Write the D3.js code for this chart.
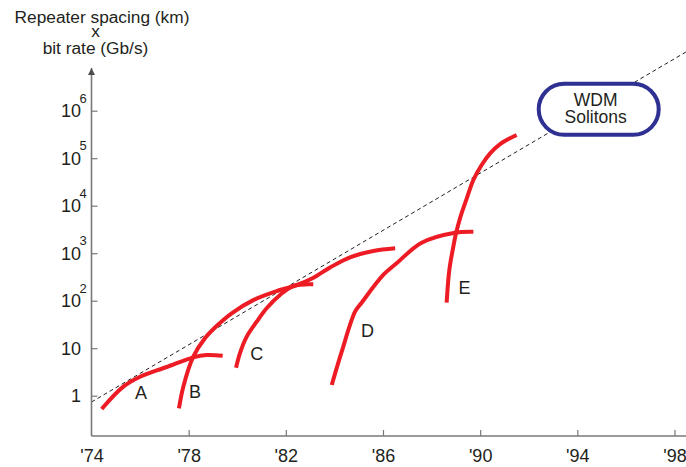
<!DOCTYPE html>
<html>
<head>
<meta charset="utf-8">
<script src="https://cdn.jsdelivr.net/npm/d3@7"></script>
<style>
  body { margin: 0; background: #fff; }
  svg { display: block; font-family: "Liberation Sans", Arial, sans-serif; }
</style>
</head>
<body>
<svg id="chart" width="686" height="467"></svg>
<script>
// values (year, repeater spacing x bit rate)
let xTicks = [1974, 1978, 1982, 1986, 1990, 1994, 1998]
let yTicks = [1, 10, 100, 1e3, 1e4, 1e5, 1e6]
let yExponents = [0, 1, 2, 3, 4, 5, 6]

let curveA = [[1974.42, 0.525], [1975.31, 1.55], [1976.0, 2.51], [1977.1, 4.02], [1978.19, 6.43], [1978.74, 7.19], [1979.4, 6.95]]
let curveB = [[1977.6, 0.543], [1977.78, 1.55], [1978.19, 6.62], [1978.67, 16.2], [1979.15, 29.3], [1979.77, 54.3], [1980.66, 103], [1981.76, 168], [1982.45, 214], [1983.12, 300], [1983.82, 500], [1984.64, 820], [1985.6, 1112], [1986.5, 1268]]
let curveC = [[1979.95, 3.88], [1980.11, 7.81], [1980.39, 17.5], [1980.8, 36.1], [1981.21, 69.2], [1981.76, 132], [1982.31, 204], [1983.13, 221]]
let curveD = [[1983.89, 1.68], [1984.3, 8.44], [1984.85, 58.7], [1985.12, 90.8], [1986.01, 348], [1986.56, 613], [1987.59, 1663], [1988.96, 2704], [1989.72, 2837]]
let curveE = [[1988.62, 90.8], [1988.73, 443], [1988.895, 1371], [1989.006, 2624], [1989.17, 5430], [1989.45, 14300], [1989.72, 34760], [1990.06, 71900], [1990.41, 126800], [1990.82, 199000], [1991.5, 307700]]

let curves = [curveA, curveB, curveC, curveD, curveE]
let curveNames = ['A', 'B', 'C', 'D', 'E']
let labelPos = [[1976.04, 0.84], [1978.26, 0.88], [1980.8, 5.64], [1985.36, 17.5], [1989.36, 138]]

// dashed trend line
let trendYears = [1974, 1998.47]
let trendValues = [0.736, 1.72e7]

let svg = d3.select('#chart')
let textColor = '#231f20'
let axisColor = '#77787b'

let x = d3.scaleLinear().domain([1974, 1998]).range([91.5, 674.5])
let y = d3.scaleLog().domain([1, 1e6]).range([395.7, 110.7])
let axisY = 436

// trend line first so the box covers it
svg.append('line')
    .attr('x1', x(trendYears[0])).attr('y1', y(trendValues[0]))
    .attr('x2', x(trendYears[1])).attr('y2', y(trendValues[1]))
    .attr('stroke', '#231f20')
    .attr('stroke-width', 1)
    .attr('stroke-dasharray', '4,3')

// axes
let defs = svg.append('defs')
defs.append('marker')
    .attr('id', 'arrow')
    .attr('viewBox', '0 0 10 10')
    .attr('refX', 10).attr('refY', 5)
    .attr('markerWidth', 7).attr('markerHeight', 9)
    .attr('markerUnits', 'userSpaceOnUse')
    .attr('orient', 'auto')
    .append('path')
    .attr('d', 'M0,0L10,5L0,10Z')
    .attr('fill', '#4d4d4f')

svg.append('line')
    .attr('x1', x(1974)).attr('y1', axisY)
    .attr('x2', x(1974)).attr('y2', 68)
    .attr('stroke', axisColor).attr('stroke-width', 1.6)
    .attr('marker-end', 'url(#arrow)')

svg.append('line')
    .attr('x1', x(1974)).attr('y1', axisY)
    .attr('x2', 686).attr('y2', axisY)
    .attr('stroke', axisColor).attr('stroke-width', 1.6)

let xAxis = svg.append('g')
    .attr('transform', `translate(0,${axisY})`)
    .call(d3.axisBottom(x).tickValues(xTicks).tickSize(-6).tickPadding(13)
        .tickFormat(d => "'" + String(d).slice(2)))
xAxis.select('.domain').remove()
xAxis.selectAll('line').attr('stroke', axisColor).attr('stroke-width', 1.2)
xAxis.selectAll('text').attr('fill', textColor).style('font-size', '18px')
xAxis.selectAll('.tick').filter(d => d == 1974).select('line').remove()

let yAxis = svg.append('g')
    .attr('transform', `translate(${x(1974)},0)`)
    .call(d3.axisLeft(y).tickValues(yTicks).tickSize(-6).tickFormat(''))
yAxis.select('.domain').remove()
yAxis.selectAll('line').attr('stroke', axisColor).attr('stroke-width', 1.2)

// y tick labels with superscripts
yTicks.forEach((t, i) => {
    let e = yExponents[i]
    let g = svg.append('g').attr('fill', textColor)
    g.append('text')
        .attr('x', 81).attr('y', y(t) + 6.5)
        .attr('text-anchor', 'end')
        .style('font-size', '18px')
        .text(e == 0 ? '1' : '10')
    if (e > 1) {
        g.append('text')
            .attr('x', 79.5).attr('y', y(t) - 8)
            .style('font-size', '13px')
            .text(e)
    }
})

// title
let title = svg.append('g').attr('fill', textColor).style('font-size', '17.3px')
title.append('text').attr('x', 102).attr('y', 22.5).attr('text-anchor', 'middle').text('Repeater spacing (km)')
title.append('text').attr('x', 95.5).attr('y', 37).attr('text-anchor', 'middle').text('x')
title.append('text').attr('x', 95.5).attr('y', 54).attr('text-anchor', 'middle').text('bit rate (Gb/s)')

// red curves
let line = d3.line()
    .x(d => x(d[0]))
    .y(d => y(d[1]))
    .curve(d3.curveCatmullRom.alpha(0.5))

svg.append('g')
    .selectAll('path')
    .data(curves)
    .join('path')
    .attr('d', line)
    .attr('fill', 'none')
    .attr('stroke', '#ed1c24')
    .attr('stroke-width', 4)
    .attr('stroke-linejoin', 'round')

svg.append('g')
    .selectAll('text')
    .data(curveNames)
    .join('text')
    .attr('x', (d, i) => x(labelPos[i][0]))
    .attr('y', (d, i) => y(labelPos[i][1]))
    .attr('text-anchor', 'middle')
    .attr('fill', textColor)
    .style('font-size', '18px')
    .text(d => d)

// WDM / Solitons callout
let boxYear = 1994.88
let boxValue = 1.07e6
let bx = x(boxYear), by = y(boxValue)
let bw = 120, bh = 51
svg.append('rect')
    .attr('x', bx - bw / 2).attr('y', by - bh / 2)
    .attr('width', bw).attr('height', bh)
    .attr('rx', bh / 2).attr('ry', bh / 2)
    .attr('fill', '#fff')
    .attr('stroke', '#2e3192')
    .attr('stroke-width', 4)

let boxText = svg.append('g').attr('fill', textColor).style('font-size', '17.5px').attr('text-anchor', 'middle')
boxText.append('text').attr('x', bx - 3).attr('y', by - 3).text('WDM')
boxText.append('text').attr('x', bx - 3).attr('y', by + 14).text('Solitons')
</script>
</body>
</html>
